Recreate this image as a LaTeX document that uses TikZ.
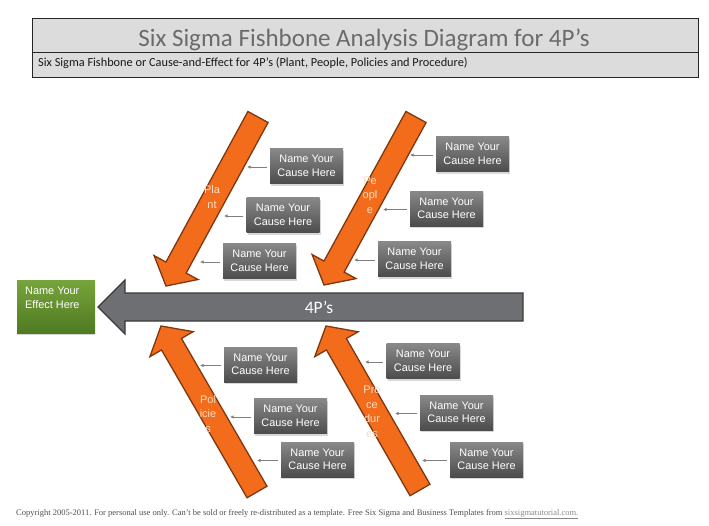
\documentclass[tikz,border=0pt]{standalone}
\usepackage{fontspec}
\setmainfont{Liberation Sans}
\newfontfamily\carlito{Carlito}
\newfontfamily\serifft{Liberation Serif}
\usetikzlibrary{calc,arrows.meta,shadows}
\definecolor{hdrgray}{HTML}{DCDCDC}
\definecolor{titlegray}{HTML}{6B6B6B}
\definecolor{cbtop}{HTML}{898989}
\definecolor{cbbot}{HTML}{4C4C4C}
\definecolor{effTop}{HTML}{78A43C}
\definecolor{effBot}{HTML}{4E7A22}
\definecolor{orangeFill}{HTML}{F36C1C}
\definecolor{orangeEdge}{HTML}{7E3810}
\definecolor{peach}{HTML}{FBDDC6}
\definecolor{spineFill}{HTML}{6E6F72}
\definecolor{spineEdge}{HTML}{3A3A3A}
\definecolor{connGray}{HTML}{7F7F7F}
\definecolor{footGray}{HTML}{505050}
\definecolor{linkGray}{HTML}{8A8A8A}
\tikzset{
  causebox/.style={minimum width=73pt, minimum height=35pt, inner sep=0pt,
    top color=cbtop, bottom color=cbbot, text=white, align=center,
    font=\fontsize{10.9}{13.5}\selectfont,
    drop shadow={shadow xshift=1pt, shadow yshift=-2pt, fill=black!25, opacity=0.6}},
  effectbox/.style={minimum width=78pt, minimum height=53pt, inner sep=0pt,
    top color=effTop, bottom color=effBot,
    drop shadow={shadow xshift=0pt, shadow yshift=-2pt, fill=black!25, opacity=0.6}},
  conn/.style={draw=connGray, line width=0.8pt, -{Latex[length=3.5pt,width=3.5pt]}},
  orangearrow/.style={fill=orangeFill, draw=orangeEdge, line width=1.3pt, line join=miter},
  armlabel/.style={text=peach, align=center, inner sep=0pt,
    font=\fontsize{11}{14.5}\selectfont},
}
\newcommand\fatarrow[2]{%
  \coordinate (hh) at ($(#2)!21pt!(#1)$);
  \filldraw[orangearrow] ($(#1)!11.5pt!90:(#2)$) -- ($(hh)!11.5pt!90:(#2)$)
    -- ($(hh)!25pt!90:(#2)$) -- (#2) -- ($(hh)!25pt!-90:(#2)$)
    -- ($(hh)!11.5pt!-90:(#2)$) -- ($(#1)!11.5pt!-90:(#2)$) -- cycle;
}
\begin{document}
\begin{tikzpicture}[x=1pt,y=-1pt]
\useasboundingbox (0,0) rectangle (709,525);
\fill[white] (0,0) rectangle (709,525);

% header
\draw[fill=hdrgray, draw=black!85, line width=1pt] (32,18) rectangle (698,77);
\draw[black!85, line width=0.8pt] (32,52) -- (698,52);
\node[text=titlegray, font=\carlito\fontsize{25}{28}\selectfont, inner sep=0pt] (title) at (364,40) {Six Sigma Fishbone Analysis Diagram for 4P’s};
\node[anchor=west, text=black!90, font=\carlito\fontsize{12.3}{14}\selectfont, inner sep=0pt] (subtitle) at (38,63) {Six Sigma Fishbone or Cause-and-Effect for 4P’s (Plant, People, Policies and Procedure)};

% spine
\filldraw[fill=spineFill, draw=spineEdge, line width=1.2pt, line join=miter]
  (523,293) -- (125,293) -- (125,280) -- (98,307) -- (125,334) -- (125,321) -- (523,321) -- cycle;
\node[text=white, font=\carlito\fontsize{17.5}{20}\selectfont, inner sep=0pt] (spine) at (319,307) {4P’s};

% effect
\node[effectbox] (effect) at (56,306.5) {};
\node[anchor=north west, text=white, align=left, inner sep=0pt, font=\fontsize{10.9}{13.5}\selectfont] (effecttext) at (25,287) {Name Your\\Effect Here};

% orange arrows
\coordinate (plantS) at (258,117);
\coordinate (plantT) at (166,286);
\coordinate (peopleS) at (416,117);
\coordinate (peopleT) at (324,285);
\coordinate (policiesS) at (257,492);
\coordinate (policiesT) at (161,326);
\coordinate (proceduresS) at (420,490);
\coordinate (proceduresT) at (326,326);
\fatarrow{plantS}{plantT}
\fatarrow{peopleS}{peopleT}
\fatarrow{policiesS}{policiesT}
\fatarrow{proceduresS}{proceduresT}

\node[armlabel] (plantlbl) at (212,197) {Pla\\nt};
\node[armlabel] (peoplelbl) at (370,195) {Pe\\opl\\e};
\node[armlabel] (policieslbl) at (208,414) {Pol\\icie\\s};
\node[armlabel] (procedureslbl) at (372,412) {Pro\\ce\\dur\\es};

% cause boxes
\node[causebox] (p1) at (306.5,166) {Name Your\\Cause Here};
\node[causebox] (p2) at (283,215) {Name Your\\Cause Here};
\node[causebox] (p3) at (259.5,261) {Name Your\\Cause Here};
\node[causebox] (e1) at (472.5,154) {Name Your\\Cause Here};
\node[causebox] (e2) at (446.5,208.5) {Name Your\\Cause Here};
\node[causebox] (e3) at (414.5,259) {Name Your\\Cause Here};
\node[causebox] (l1) at (260.5,364.5) {Name Your\\Cause Here};
\node[causebox] (l2) at (290.5,416) {Name Your\\Cause Here};
\node[causebox] (l3) at (317.5,459.5) {Name Your\\Cause Here};
\node[causebox] (r1) at (423,361) {Name Your\\Cause Here};
\node[causebox] (r2) at (456.5,412.5) {Name Your\\Cause Here};
\node[causebox] (r3) at (486.5,459.5) {Name Your\\Cause Here};

% connector ends
\coordinate (p1e) at (247,0);
\coordinate (p2e) at (224,0);
\coordinate (p3e) at (200,0);
\coordinate (e1e) at (410,0);
\coordinate (e2e) at (383,0);
\coordinate (e3e) at (354,0);
\coordinate (l1e) at (200,0);
\coordinate (l2e) at (230,0);
\coordinate (l3e) at (257,0);
\coordinate (r1e) at (365,0);
\coordinate (r2e) at (395,0);
\coordinate (r3e) at (422,0);
\foreach \b in {p1,p2,p3,e1,e2,e3,l1,l2,l3,r1,r2,r3}{
  \draw[conn] ([xshift=-3pt,yshift=-1pt]\b.west) -- ([yshift=-1pt]\b.west -| \b e);
}

% footer
\node[anchor=west, inner sep=0pt, text=footGray, font=\serifft\fontsize{8.5}{10}\selectfont] (footer) at (16,514)
  {Copyright 2005-2011. For personal use only. Can’t be sold or freely re-distributed as a template. Free Six Sigma and Business Templates from \textcolor{linkGray}{\underline{sixsigmatutorial.com.}}};
\end{tikzpicture}
\end{document}
